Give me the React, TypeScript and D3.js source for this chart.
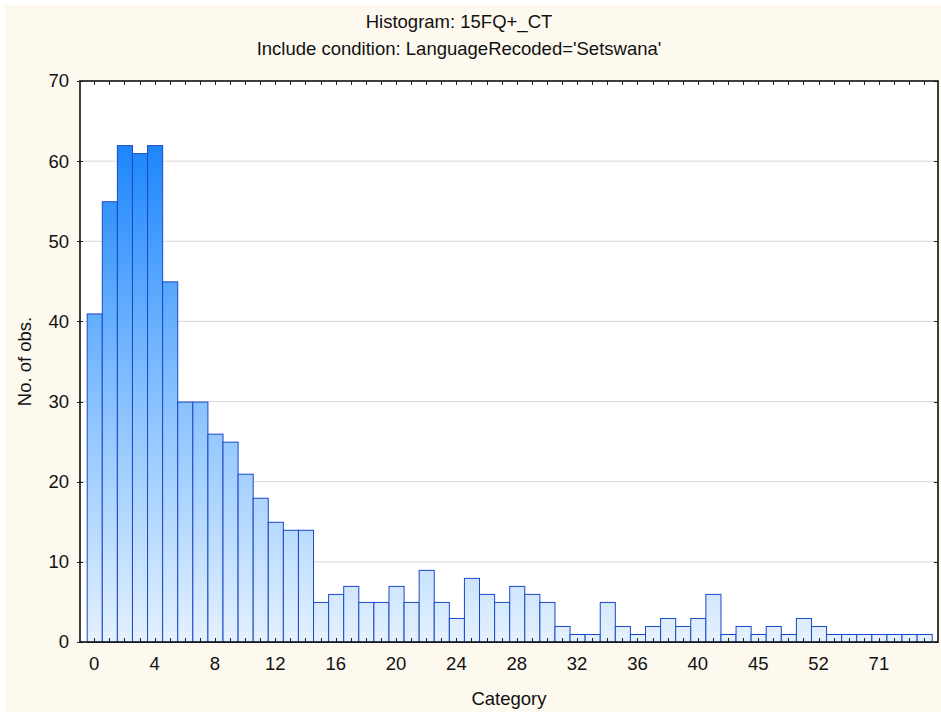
import { useEffect, useRef } from 'react';
import * as d3 from 'd3';

// category values shown on the x axis (one per bar)
const categories: string[] = [
  '0', '1', '2', '3', '4', '5', '6', '7', '8', '9', '10', '11', '12', '13', '14', '15',
  '16', '17', '18', '19', '20', '21', '22', '23', '24', '25', '26', '27', '28', '29', '30', '31',
  '32', '33', '34', '35', '36', '37', '38', '39', '40', '41', '42', '43', '45', '46',
  '48', '50', '52', '54', '57', '60', '71', '75', '80', '90',
];

const counts: number[] = [
  41, 55, 62, 61, 62, 45, 30, 30, 26, 25, 21, 18, 15, 14, 14, 5,
  6, 7, 5, 5, 7, 5, 9, 5, 3, 8, 6, 5, 7, 6, 5, 2,
  1, 1, 5, 2, 1, 2, 3, 2, 3, 6, 1, 2, 1, 2,
  1, 3, 2, 1, 1, 1, 1, 1, 1, 1,
];

const yTicks = [0, 10, 20, 30, 40, 50, 60, 70];

const W = 941;
const H = 713;
const plot = { left: 80, right: 938, top: 81, bottom: 642 };

export default function App() {
  const svgRef = useRef<SVGSVGElement>(null);

  useEffect(() => {
    if (!svgRef.current) return;
    const svg = d3.select(svgRef.current);
    svg.selectAll('*').remove();

    const font = '"Liberation Sans", Arial, sans-serif';
    const fs = 18.5;

    svg.append('rect').attr('x', 5).attr('y', 5).attr('width', W - 5).attr('height', H - 6).attr('fill', '#fdf9ef');

    const x = d3.scaleBand<string>()
      .domain(categories)
      .range([plot.left + 6.7, plot.right - 6.3])
      .padding(0);
    const y = d3.scaleLinear().domain([0, 70]).range([plot.bottom, plot.top]);

    const defs = svg.append('defs');
    const grad = defs.append('linearGradient')
      .attr('id', 'barGrad')
      .attr('gradientUnits', 'userSpaceOnUse')
      .attr('x1', 0).attr('x2', 0)
      .attr('y1', y(0)).attr('y2', y(62));
    grad.append('stop').attr('offset', '0%').attr('stop-color', '#e4f1ff');
    grad.append('stop').attr('offset', '50%').attr('stop-color', '#85c0ff');
    grad.append('stop').attr('offset', '100%').attr('stop-color', '#1c86fb');

    svg.append('rect')
      .attr('x', plot.left).attr('y', plot.top)
      .attr('width', plot.right - plot.left).attr('height', plot.bottom - plot.top)
      .attr('fill', '#ffffff');

    // gridlines
    svg.append('g')
      .selectAll('line')
      .data(yTicks.slice(1, -1))
      .join('line')
      .attr('x1', plot.left).attr('x2', plot.right)
      .attr('y1', (d) => y(d)).attr('y2', (d) => y(d))
      .attr('stroke', '#d8d8d8').attr('stroke-width', 1);

    // bars
    svg.append('g')
      .selectAll('rect')
      .data(counts)
      .join('rect')
      .attr('x', (_, i) => (x(categories[i]) ?? 0) + 0.5)
      .attr('y', (d) => y(d) + 0.5)
      .attr('width', x.bandwidth())
      .attr('height', (d) => y(0) - y(d))
      .attr('fill', 'url(#barGrad)')
      .attr('stroke', '#1c48c8')
      .attr('stroke-width', 1);

    // minor ticks at each bar centre (bottom and top, pointing inward)
    const ticks = svg.append('g').attr('stroke', '#222').attr('stroke-width', 1);
    categories.forEach((c) => {
      const cx = Math.round((x(c) ?? 0) + x.bandwidth() / 2) + 0.5;
      ticks.append('line').attr('x1', cx).attr('x2', cx).attr('y1', plot.bottom).attr('y2', plot.bottom - 4);
      ticks.append('line').attr('x1', cx).attr('x2', cx).attr('y1', plot.top).attr('y2', plot.top + 4);
    });
    yTicks.forEach((t) => {
      const ty = Math.round(y(t)) + 0.5;
      ticks.append('line').attr('x1', plot.left - 3).attr('x2', plot.left + 3).attr('y1', ty).attr('y2', ty);
      ticks.append('line').attr('x1', plot.right - 4).attr('x2', plot.right).attr('y1', ty).attr('y2', ty);
    });

    // frame
    svg.append('rect')
      .attr('x', plot.left).attr('y', plot.top)
      .attr('width', plot.right - plot.left).attr('height', plot.bottom - plot.top)
      .attr('fill', 'none').attr('stroke', '#111').attr('stroke-width', 1.6);

    // y labels
    svg.append('g')
      .selectAll('text')
      .data(yTicks)
      .join('text')
      .attr('x', plot.left - 11)
      .attr('y', (d) => y(d))
      .attr('dy', '0.35em')
      .attr('text-anchor', 'end')
      .attr('font-family', font).attr('font-size', fs).attr('fill', '#111')
      .text((d) => d);

    // x labels every 4th bar
    svg.append('g')
      .selectAll('text')
      .data(categories.filter((_, i) => i % 4 === 0))
      .join('text')
      .attr('x', (d) => (x(d) ?? 0) + x.bandwidth() / 2)
      .attr('y', 670)
      .attr('text-anchor', 'middle')
      .attr('font-family', font).attr('font-size', fs).attr('fill', '#111')
      .text((d) => d);

    svg.append('text')
      .attr('x', 509).attr('y', 705)
      .attr('text-anchor', 'middle')
      .attr('font-family', font).attr('font-size', fs).attr('fill', '#111')
      .text('Category');

    svg.append('text')
      .attr('transform', `translate(31,${(plot.top + plot.bottom) / 2}) rotate(-90)`)
      .attr('text-anchor', 'middle')
      .attr('font-family', font).attr('font-size', fs).attr('fill', '#111')
      .text('No. of obs.');

    svg.append('text')
      .attr('x', 459).attr('y', 28)
      .attr('text-anchor', 'middle')
      .attr('font-family', font).attr('font-size', fs).attr('fill', '#111')
      .text('Histogram: 15FQ+_CT');
    svg.append('text')
      .attr('x', 459).attr('y', 55)
      .attr('text-anchor', 'middle')
      .attr('font-family', font).attr('font-size', fs).attr('fill', '#111')
      .text("Include condition: LanguageRecoded='Setswana'");
  }, []);

  return (
    <svg ref={svgRef} width={W} height={H} style={{ position: 'absolute', left: 0, top: 0, background: '#ffffff' }} />
  );
}
